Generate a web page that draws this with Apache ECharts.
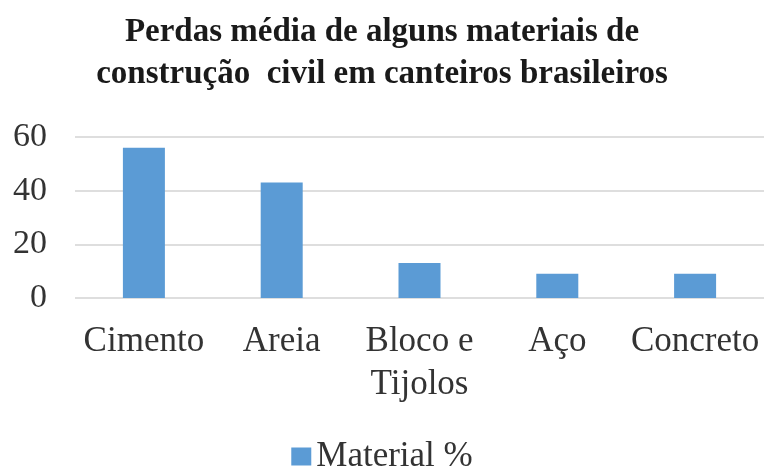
<!DOCTYPE html>
<html>
<head>
<meta charset="utf-8">
<script src="https://cdn.jsdelivr.net/npm/echarts@6/dist/echarts.min.js"></script>
<style>
html, body { margin: 0; padding: 0; background: #fff; }
#chart { width: 764px; height: 466px; }
</style>
</head>
<body>
<div id="chart"></div>
<script>
const categories = ['Cimento', 'Areia', 'Bloco e\nTijolos', 'Aço', 'Concreto'];
const materialValues = [56, 43, 13, 9, 9];
const yTicks = [0, 20, 40, 60];

const chart = echarts.init(document.getElementById('chart'));
const serif = '"Liberation Serif", "DejaVu Serif", serif';

const option = {
  animation: false,
  title: {
    text: 'Perdas média de alguns materiais de\nconstrução  civil em canteiros brasileiros',
    left: 'center',
    top: 6,
    textStyle: {
      fontFamily: serif,
      fontWeight: 'bold',
      fontSize: 33,
      lineHeight: 42,
      color: '#1a1a1a'
    }
  },
  legend: {
    top: 434,
    left: 'center',
    icon: 'rect',
    itemWidth: 20,
    itemHeight: 18,
    itemGap: 6,
    textStyle: { fontFamily: serif, fontSize: 35, color: '#333' },
    data: ['Material %']
  },
  grid: { left: 75, top: 137, width: 692, height: 161 },
  xAxis: {
    type: 'category',
    data: categories,
    axisLine: { show: false },
    axisTick: { show: false },
    axisLabel: {
      interval: 0,
      margin: 22,
      fontFamily: serif,
      fontSize: 35,
      lineHeight: 43,
      color: '#333'
    }
  },
  yAxis: {
    type: 'value',
    min: yTicks[0],
    max: yTicks[yTicks.length - 1],
    interval: 20,
    axisLine: { show: false },
    axisTick: { show: false },
    splitLine: { lineStyle: { color: '#dedede', width: 2 } },
    axisLabel: {
      margin: 28,
      fontFamily: serif,
      fontSize: 34,
      color: '#333'
    }
  },
  series: [
    {
      name: 'Material %',
      type: 'bar',
      data: materialValues,
      barWidth: 42,
      itemStyle: { color: '#5b9bd5' }
    }
  ]
};

chart.setOption(option);
</script>
</body>
</html>
